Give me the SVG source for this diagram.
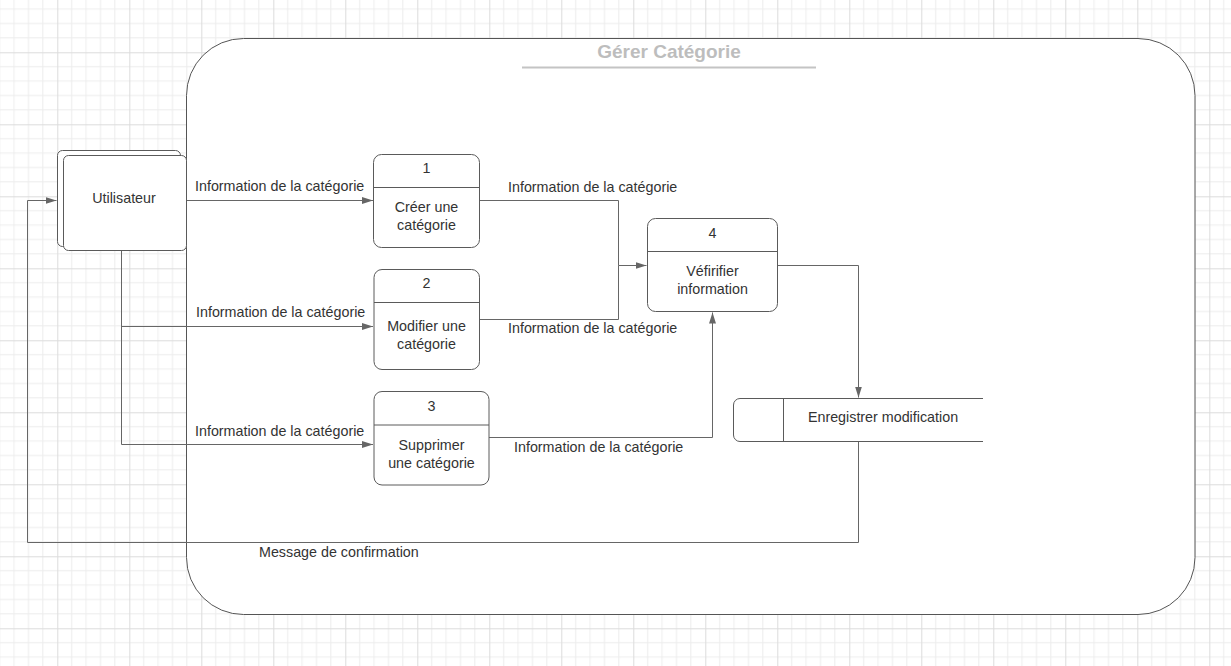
<svg xmlns="http://www.w3.org/2000/svg" width="1231" height="666" viewBox="0 0 1231 666">
<style>
.box{fill:#fff;stroke:#5a5a5a;stroke-width:1}
.div{stroke:#5a5a5a;stroke-width:1}
.t{font-family:"Liberation Sans",Arial,sans-serif;font-size:14.3px;fill:#333;text-anchor:middle}
.lbl{font-family:"Liberation Sans",Arial,sans-serif;font-size:14.3px;fill:#333}
.c{fill:none;stroke:#666;stroke-width:1}
</style>
<defs>
<pattern id="grid" x="57.3" y="52.3" width="72" height="72" patternUnits="userSpaceOnUse">
<path d="M14.4,0V72M28.8,0V72M43.2,0V72M57.6,0V72M0,14.4H72M0,28.8H72M0,43.2H72M0,57.6H72" stroke="#ececec" stroke-width="1" fill="none"/>
<path d="M0.5,0V72M0,0.5H72" stroke="#dcdcdc" stroke-width="1" fill="none"/>
</pattern>
<marker id="arr" markerUnits="userSpaceOnUse" markerWidth="12" markerHeight="8" refX="11" refY="3.5" orient="auto">
<path d="M0,0L11,3.5L0,7z" fill="#666"/>
</marker>
</defs>
<rect width="1231" height="666" fill="#fff"/>
<rect width="1231" height="666" fill="url(#grid)"/>

<g id="container">
<rect x="186.5" y="38.5" width="1008.5" height="576" rx="57" ry="57" fill="#fff" stroke="#555" stroke-width="1"/>
<text x="669" y="58" font-family="'Liberation Sans',Arial,sans-serif" font-size="19" font-weight="bold" fill="#bdbdbd" text-anchor="middle">Gérer Catégorie</text>
<line x1="522" y1="67.5" x2="816" y2="67.5" stroke="#c4c4c4" stroke-width="2"/>
</g>

<g id="connectors">
<path class="c" d="M186.5,200.5H373" marker-end="url(#arr)"/>
<path class="c" d="M121.5,251V444.5H373" marker-end="url(#arr)"/>
<path class="c" d="M121.5,326.5H373" marker-end="url(#arr)"/>
<path class="c" d="M479.5,200.5H618.5V265.5H646.5" marker-end="url(#arr)"/>
<path class="c" d="M479.5,319.5H618.5V265.5"/>
<path class="c" d="M489,437.5H712.5V312.5" marker-end="url(#arr)"/>
<path class="c" d="M777.5,265.5H858.5V397.5" marker-end="url(#arr)"/>
<path class="c" d="M858.5,442V542.5H27.5V200.5H56.5" marker-end="url(#arr)"/>
<text class="lbl" x="195" y="191">Information de la catégorie</text>
<text class="lbl" x="196" y="317">Information de la catégorie</text>
<text class="lbl" x="195" y="436">Information de la catégorie</text>
<text class="lbl" x="508" y="192">Information de la catégorie</text>
<text class="lbl" x="508" y="333">Information de la catégorie</text>
<text class="lbl" x="514" y="452">Information de la catégorie</text>
<text class="lbl" x="259" y="557">Message de confirmation</text>
</g>

<g id="utilisateur">
<rect class="box" x="57.5" y="150.5" width="123" height="96" rx="5"/>
<rect class="box" x="63.5" y="155.5" width="123" height="95" rx="5"/>
<text class="t" x="124" y="203">Utilisateur</text>
</g>

<g id="p1">
<rect class="box" x="373.5" y="154.5" width="106" height="93" rx="8"/>
<line class="div" x1="373.5" y1="187.5" x2="479.5" y2="187.5"/>
<text class="t" x="426.5" y="173">1</text>
<text class="t" x="426.5" y="211.5">Créer une</text>
<text class="t" x="426.5" y="229.5">catégorie</text>
</g>

<g id="p2">
<rect class="box" x="374" y="269.5" width="105.5" height="100" rx="8"/>
<line class="div" x1="374" y1="302.5" x2="479.5" y2="302.5"/>
<text class="t" x="426.5" y="288">2</text>
<text class="t" x="426.5" y="330.5">Modifier une</text>
<text class="t" x="426.5" y="348.5">catégorie</text>
</g>

<g id="p3">
<rect class="box" x="374" y="391.5" width="115" height="93.5" rx="8"/>
<line class="div" x1="374" y1="425" x2="489" y2="425"/>
<text class="t" x="431.5" y="411">3</text>
<text class="t" x="431.5" y="450">Supprimer</text>
<text class="t" x="431.5" y="467.5">une catégorie</text>
</g>

<g id="p4">
<rect class="box" x="647.5" y="218.5" width="130" height="93" rx="8"/>
<line class="div" x1="647.5" y1="251.5" x2="777.5" y2="251.5"/>
<text class="t" x="712.5" y="237.5">4</text>
<text class="t" x="712.5" y="275.5">Véfirifier</text>
<text class="t" x="712.5" y="293.5">information</text>
</g>

<g id="store">
<path d="M983,398.5H740A6.5,6.5 0 0 0 733.5,405V435A6.5,6.5 0 0 0 740,441.5H983" fill="#fff" stroke="#5a5a5a" stroke-width="1"/>
<line class="div" x1="783.5" y1="398.5" x2="783.5" y2="441.5"/>
<text class="t" x="883" y="422">Enregistrer modification</text>
</g>
</svg>
